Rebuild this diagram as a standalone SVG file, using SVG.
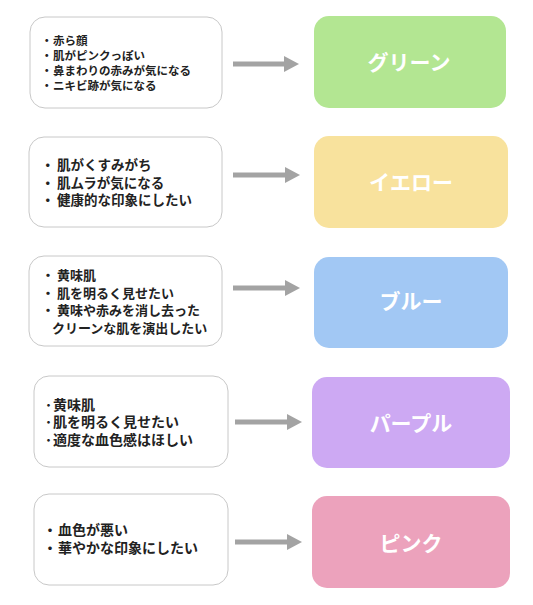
<svg xmlns="http://www.w3.org/2000/svg" width="533" height="605" viewBox="0 0 533 605">
<style>
.src{fill:#fff;stroke:#c8c8c8;stroke-width:1}
.t{font-family:"Noto Sans CJK JP","Noto Sans",sans-serif;font-weight:700;fill:#222}
.s1{font-size:11.5px}
.s2{font-size:13.5px}
.s2b{font-size:13px}
.s3{font-size:14px}
.lbl{font-family:"Noto Sans CJK JP","Noto Sans",sans-serif;font-weight:700;font-size:21px;fill:#fff;text-anchor:middle}
.arr{stroke:#a3a3a3;stroke-width:5;fill:none}
.head{fill:#a3a3a3}
</style>
<rect width="533" height="605" fill="#fff"/>
<g id="src1">
<rect class="src" x="30" y="17" width="192" height="91" rx="15"/>
<text class="t s1" x="41" y="44.5">・<tspan x="53">赤ら顔</tspan></text>
<text class="t s1" x="41" y="59.5">・<tspan x="53">肌がピンクっぽい</tspan></text>
<text class="t s1" x="41" y="74.5">・<tspan x="53">鼻まわりの赤みが気になる</tspan></text>
<text class="t s1" x="41" y="89.5">・<tspan x="53">ニキビ跡が気になる</tspan></text>
</g>
<g id="src2">
<rect class="src" x="29" y="137" width="193" height="90" rx="15"/>
<text class="t s2" x="41" y="170">・<tspan x="57">肌がくすみがち</tspan></text>
<text class="t s2" x="41" y="187.5">・<tspan x="57">肌ムラが気になる</tspan></text>
<text class="t s2" x="41" y="205">・<tspan x="57">健康的な印象にしたい</tspan></text>
</g>
<g id="src3">
<rect class="src" x="29" y="256" width="193" height="90" rx="15"/>
<text class="t s2b" x="41.5" y="280">・<tspan x="57">黄味肌</tspan></text>
<text class="t s2b" x="41.5" y="297.5">・<tspan x="57">肌を明るく見せたい</tspan></text>
<text class="t s2b" x="41.5" y="315">・<tspan x="57">黄味や赤みを消し去った</tspan></text>
<text class="t s2b" x="52" y="332.5">クリーンな肌を演出したい</text>
</g>
<g id="src4">
<rect class="src" x="34" y="376" width="194" height="91" rx="15"/>
<text class="t s3" x="45" y="409.5">･<tspan x="53">黄味肌</tspan></text>
<text class="t s3" x="45" y="427">･<tspan x="53">肌を明るく見せたい</tspan></text>
<text class="t s3" x="45" y="444.5">･<tspan x="53">適度な血色感はほしい</tspan></text>
</g>
<g id="src5">
<rect class="src" x="34" y="494" width="194" height="91" rx="15"/>
<text class="t s3" x="43" y="535">・<tspan x="58">血色が悪い</tspan></text>
<text class="t s3" x="43" y="553">・<tspan x="58">華やかな印象にしたい</tspan></text>
</g>
<g id="green">
<rect x="314" y="16" width="192" height="92" rx="15" fill="#b3e692"/>
<text class="lbl" x="409" y="70">グリーン</text>
</g>
<g id="yellow">
<rect x="314" y="136" width="194" height="92" rx="15" fill="#f8e29d"/>
<text class="lbl" x="411" y="190">イエロー</text>
</g>
<g id="blue">
<rect x="314" y="257" width="194" height="91" rx="15" fill="#a2c8f4"/>
<text class="lbl" x="411" y="309">ブルー</text>
</g>
<g id="purple">
<rect x="312" y="377" width="198" height="91" rx="15" fill="#cda9f3"/>
<text class="lbl" x="411" y="431">パープル</text>
</g>
<g id="pink">
<rect x="312" y="496" width="198" height="92" rx="15" fill="#eca2bc"/>
<text class="lbl" x="411" y="551">ピンク</text>
</g>
<g id="connectors">
<line class="arr" x1="233" y1="64" x2="286" y2="64"/>
<polygon class="head" points="284,56 299,64 284,72"/>
<line class="arr" x1="233" y1="175" x2="287" y2="175"/>
<polygon class="head" points="285,167 300,175 285,183"/>
<line class="arr" x1="233" y1="288" x2="287" y2="288"/>
<polygon class="head" points="285,280 300,288 285,296"/>
<line class="arr" x1="235" y1="422" x2="289" y2="422"/>
<polygon class="head" points="287,414 302,422 287,430"/>
<line class="arr" x1="235" y1="542" x2="289" y2="542"/>
<polygon class="head" points="287,534 302,542 287,550"/>
</g>
</svg>
